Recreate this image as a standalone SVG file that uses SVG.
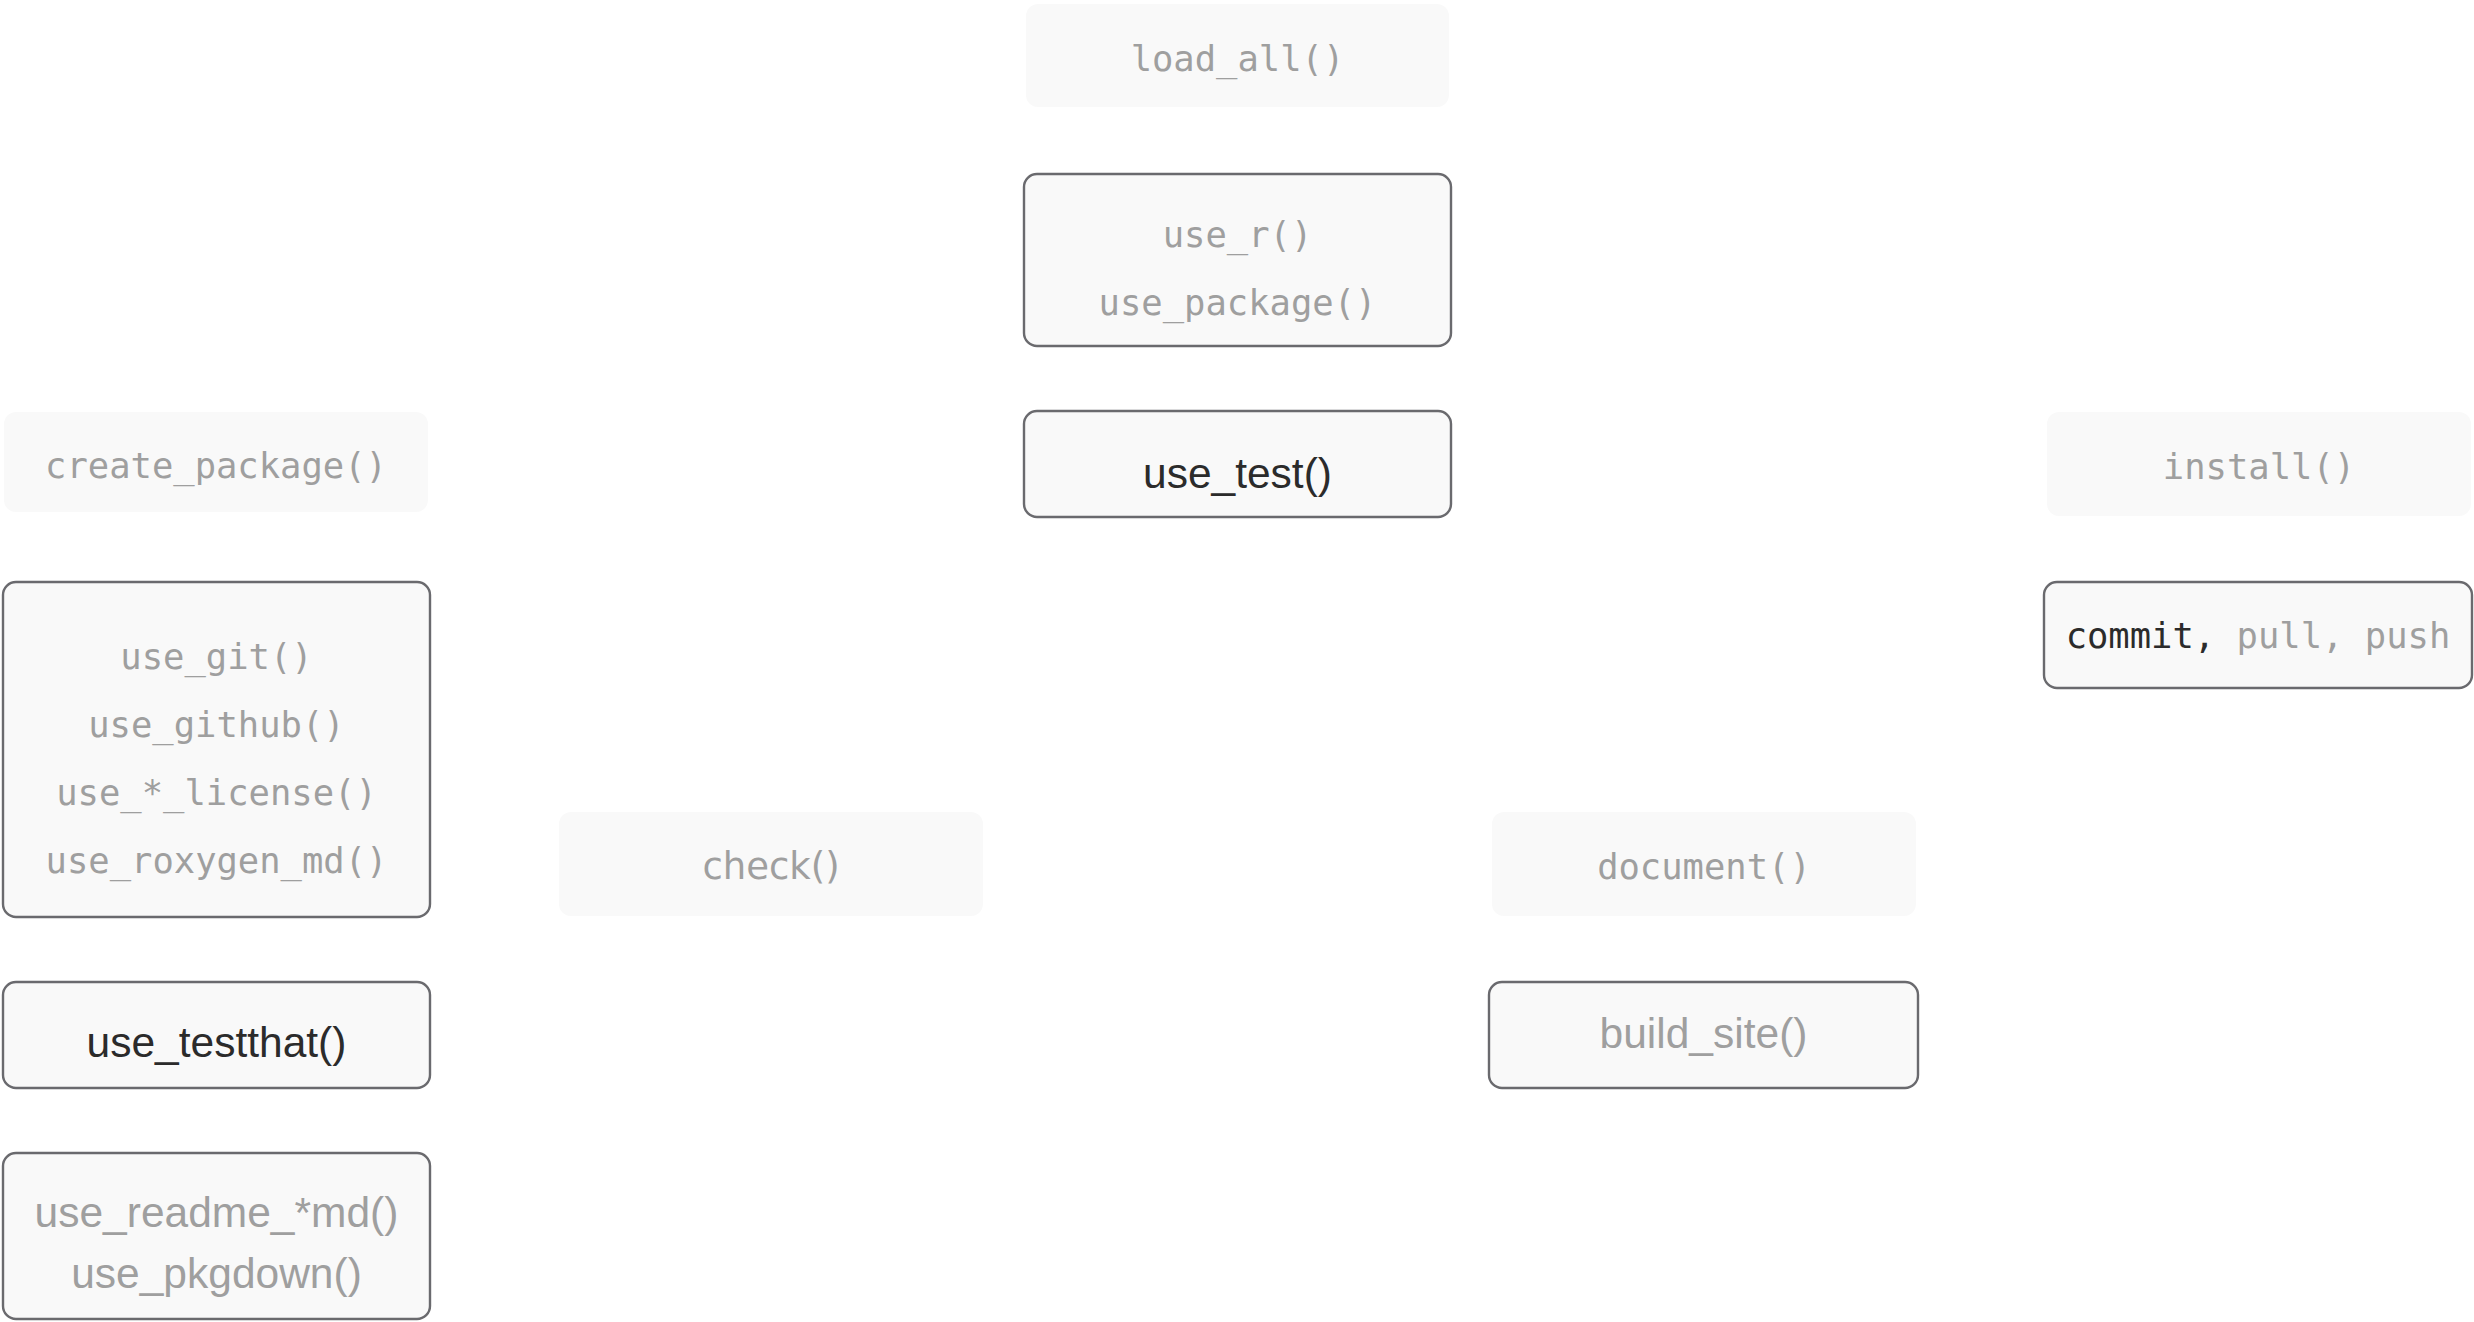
<svg xmlns="http://www.w3.org/2000/svg" width="2474" height="1322" viewBox="0 0 2474 1322">
<style>
  .bg { fill: #ffffff; }
  .soft { fill: #f9f9f9; stroke: none; }
  .box { fill: #f9f9f9; stroke: #6a6a6e; stroke-width: 2.4; }
  .mono { font-family: "DejaVu Sans Mono", "Liberation Mono", monospace; font-size: 35.5px; text-anchor: middle; }
  .sans { font-family: "Liberation Sans", Arial, sans-serif; font-size: 42.5px; text-anchor: middle; }
  .alt { font-family: "DejaVu Sans", "Noto Sans", sans-serif; font-size: 37px; text-anchor: middle; }
  .grey { fill: #9f9f9f; }
  .dark { fill: #2b2b2b; }
</style>
<rect class="bg" x="0" y="0" width="2474" height="1322"/>
<g id="connectors"/>
<g id="load_all">
  <rect class="soft" x="1026" y="4" width="423" height="103" rx="12"/>
  <text class="mono grey" x="1237.5" y="71">load_all()</text>
</g>
<g id="use_r">
  <rect class="box" x="1024" y="174" width="427" height="172" rx="13"/>
  <text class="mono grey" x="1237.5" y="247">use_r()</text>
  <text class="mono grey" x="1237.5" y="315">use_package()</text>
</g>
<g id="use_test">
  <rect class="box" x="1024" y="411" width="427" height="106" rx="13"/>
  <text class="sans dark" x="1237.5" y="488">use_test()</text>
</g>
<g id="create_package">
  <rect class="soft" x="4" y="412" width="424" height="100" rx="12"/>
  <text class="mono grey" x="216" y="478">create_package()</text>
</g>
<g id="use_git">
  <rect class="box" x="3" y="582" width="427" height="335" rx="13"/>
  <text class="mono grey" x="216.5" y="669">use_git()</text>
  <text class="mono grey" x="216.5" y="737">use_github()</text>
  <text class="mono grey" x="216.5" y="805">use_*_license()</text>
  <text class="mono grey" x="216.5" y="873">use_roxygen_md()</text>
</g>
<g id="use_testthat">
  <rect class="box" x="3" y="982" width="427" height="106" rx="13"/>
  <text class="sans dark" x="216.5" y="1057">use_testthat()</text>
</g>
<g id="use_readme">
  <rect class="box" x="3" y="1153" width="427" height="166" rx="13"/>
  <text class="sans grey" x="216.5" y="1227">use_readme_*md()</text>
  <text class="sans grey" x="216.5" y="1288">use_pkgdown()</text>
</g>
<g id="install">
  <rect class="soft" x="2047" y="412" width="424" height="104" rx="12"/>
  <text class="mono grey" x="2259" y="479">install()</text>
</g>
<g id="commit">
  <rect class="box" x="2044" y="582" width="428" height="106" rx="13"/>
  <text class="mono" x="2258" y="648"><tspan class="dark">commit,</tspan><tspan class="grey"> pull, push</tspan></text>
</g>
<g id="check">
  <rect class="soft" x="559" y="812" width="424" height="104" rx="12"/>
  <text class="alt grey" x="771" y="879">check()</text>
</g>
<g id="document">
  <rect class="soft" x="1492" y="812" width="424" height="104" rx="12"/>
  <text class="mono grey" x="1704" y="879">document()</text>
</g>
<g id="build_site">
  <rect class="box" x="1489" y="982" width="429" height="106" rx="13"/>
  <text class="sans grey" x="1703.5" y="1048">build_site()</text>
</g>
</svg>
